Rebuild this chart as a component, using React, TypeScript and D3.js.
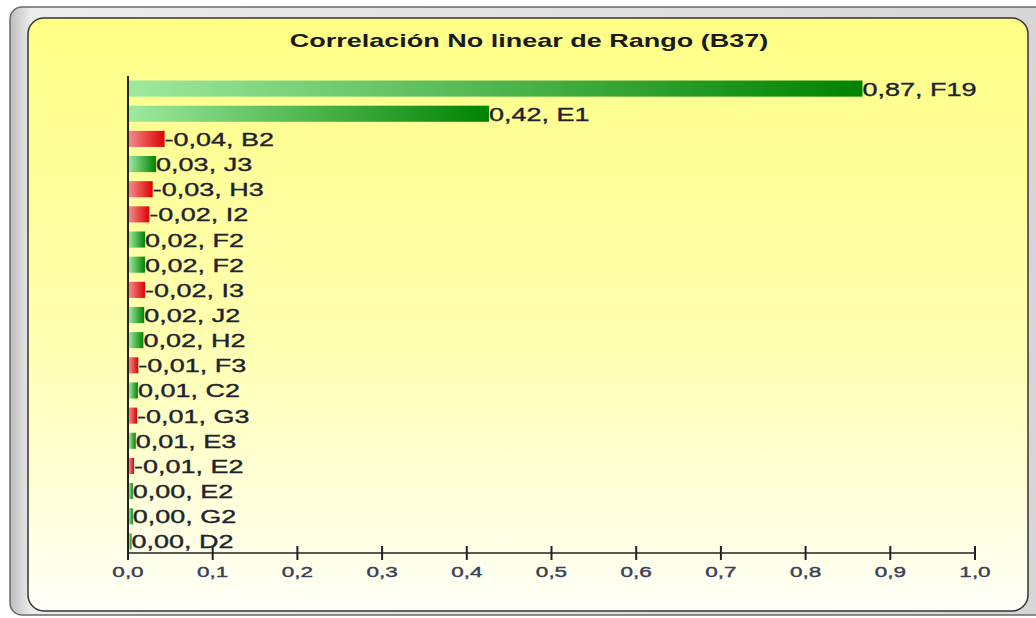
import * as d3 from "d3";

const width = 1036;
const height = 618;

// data
const categories = ["F19", "E1", "B2", "J3", "H3", "I2", "F2", "F2", "I3", "J2", "H2", "F3", "C2", "G3", "E3", "E2", "E2", "G2", "D2"];
const values = [0.866, 0.425, -0.042, 0.032, -0.028, -0.024, 0.019, 0.019, -0.019, 0.018, 0.017, -0.011, 0.0105, -0.0095, 0.008, -0.006, 0.0045, 0.0045, 0.003];
const xTicks = [0, 0.1, 0.2, 0.3, 0.4, 0.5, 0.6, 0.7, 0.8, 0.9, 1.0];
const title = "Correlación No linear de Rango (B37)";

const locale = d3.formatLocale({
  decimal: ",",
  thousands: ".",
  grouping: [3],
  currency: ["", "€"],
  minus: "-",
});
const fmt2 = locale.format(".2f");
const fmt1 = locale.format(".1f");

const font = "'Liberation Sans', Arial, sans-serif";
const sx = 1.5; // the reference is stretched horizontally

const App = () => {
  const x = d3.scaleLinear().domain([0, 1]).range([128, 975]);
  const y = d3
    .scaleBand<number>()
    .domain(d3.range(values.length))
    .range([76, 554])
    .paddingInner(0.36)
    .paddingOuter(0.18);
  const axisY = 553;

  return (
    <svg
      width={width}
      height={height}
      style={{ position: "absolute", left: 0, top: 0, background: "#fff" }}
    >
      <defs>
        <linearGradient id="panelBg" x1="0" y1="0" x2="0" y2="1">
          <stop offset="0" stopColor="#ffff86" />
          <stop offset="0.55" stopColor="#ffffb2" />
          <stop offset="1" stopColor="#fffff8" />
        </linearGradient>
        <linearGradient id="frameBg" x1="0" y1="0" x2="1" y2="0">
          <stop offset="0" stopColor="#bdbdbd" />
          <stop offset="0.02" stopColor="#ececec" />
          <stop offset="1" stopColor="#d6d6d6" />
        </linearGradient>
        <linearGradient id="posGrad" x1="0" y1="0" x2="1" y2="0">
          <stop offset="0" stopColor="#9ee99e" />
          <stop offset="1" stopColor="#008200" />
        </linearGradient>
        <linearGradient id="negGrad" x1="0" y1="0" x2="1" y2="0">
          <stop offset="0" stopColor="#f48a8a" />
          <stop offset="1" stopColor="#dc0000" />
        </linearGradient>
      </defs>

      {/* frame */}
      <rect x={10} y={7} width={1040} height={608} rx={12} fill="url(#frameBg)" stroke="#6a6a6a" strokeWidth={1.5} />
      <rect x={28} y={18} width={1000} height={593} rx={16} fill="url(#panelBg)" stroke="#333" strokeWidth={1.5} />

      <text
        transform={`translate(529,47) scale(${sx},1)`}
        textAnchor="middle"
        fontFamily={font}
        fontWeight="bold"
        fontSize={18}
        fill="#1a1a1a"
      >
        {title}
      </text>

      {/* bars */}
      {values.map((v, i) => {
        const y0 = y(i) as number;
        const w = x(Math.abs(v)) - x(0);
        return (
          <g key={i}>
            <rect
              x={x(0) + 1}
              y={y0}
              width={Math.max(w, 1)}
              height={y.bandwidth()}
              fill={v < 0 ? "url(#negGrad)" : "url(#posGrad)"}
            />
            <text
              transform={`translate(${x(Math.abs(v)) + 1},${y0 + y.bandwidth() / 2 + 7}) scale(${sx},1)`}
              fontFamily={font}
              fontSize={18}
              fill="#22222e"
              stroke="#22222e"
              strokeWidth={0.35}
            >
              {fmt2(v) + ", " + categories[i]}
            </text>
          </g>
        );
      })}

      {/* axes */}
      <line x1={x(0)} x2={x(0)} y1={76} y2={axisY} stroke="#222" strokeWidth={2} />
      <line x1={x(0)} x2={x(1)} y1={axisY} y2={axisY} stroke="#222" strokeWidth={1.5} />
      {xTicks.map((t) => (
        <g key={t}>
          <line x1={x(t)} x2={x(t)} y1={axisY - 7} y2={axisY + 7} stroke="#222" strokeWidth={2} />
          <text
            transform={`translate(${x(t)},577) scale(${sx},1)`}
            textAnchor="middle"
            fontFamily={font}
            fontSize={15}
            fill="#3a3f55"
            stroke="#3a3f55"
            strokeWidth={0.4}
          >
            {fmt1(t)}
          </text>
        </g>
      ))}
    </svg>
  );
};

export default App;
